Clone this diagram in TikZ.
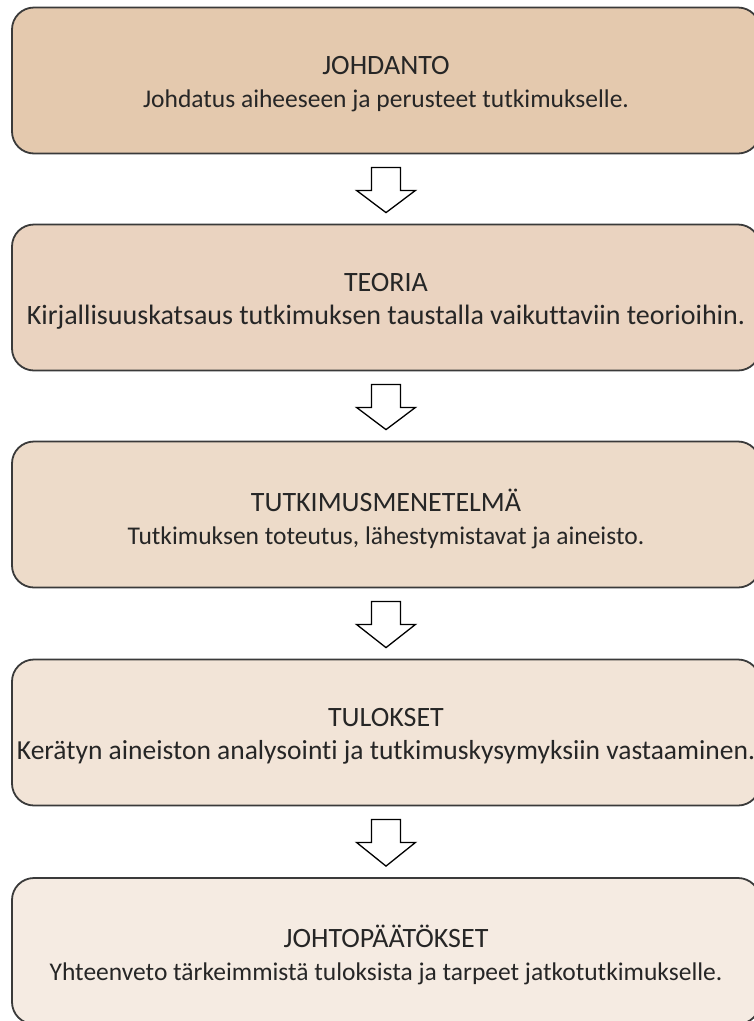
\documentclass[tikz,border=0pt]{standalone}
\usepackage{fontspec}
\setmainfont{Carlito}[Ligatures={NoCommon}]
\usetikzlibrary{calc}
\definecolor{edge}{HTML}{3A3A3A}
\definecolor{fillA}{HTML}{E4C9AE}
\definecolor{fillB}{HTML}{EAD3C0}
\definecolor{fillC}{HTML}{EDDBC9}
\definecolor{fillD}{HTML}{F2E4D7}
\definecolor{fillE}{HTML}{F5EBE2}
\tikzset{
  stagebox/.style={draw=edge, line width=1.8pt, rounded corners=22pt,
    minimum width=748pt, minimum height=146pt},
  stagetext/.style={align=center, text=black!85, inner sep=0pt,
    font=\fontsize{25.5}{33}\selectfont},
  blockarrow/.style={draw=black, line width=1.3pt, fill=white, line join=miter}
}
\newcommand{\stagetitle}[1]{{\fontsize{28}{33}\selectfont #1}}
% block arrow from the bottom of one box towards the top of the next
\newcommand{\downarrowbetween}[2]{%
  \draw[blockarrow]
    ($(#1.south)+(-14.5,13)$) -- ($(#1.south)+(14.5,13)$) --
    ($(#1.south)+(14.5,36)$) -- ($(#1.south)+(29.5,36)$) --
    ($(#2.north)+(0,-11)$) -- ($(#1.south)+(-29.5,36)$) --
    ($(#1.south)+(-14.5,36)$) -- cycle;}
\begin{document}
\begin{tikzpicture}[x=1pt,y=-1pt]
\useasboundingbox (0,0) rectangle (754,1021);
\node[stagebox, fill=fillA] (johdanto) at (386,80.5) {};
\node[stagebox, fill=fillB] (teoria) at (386,297.5) {};
\node[stagebox, fill=fillC] (menetelma) at (386,514.5) {};
\node[stagebox, fill=fillD] (tulokset) at (386,732.5) {};
\node[stagebox, fill=fillE] (johtopaatokset) at (386,951) {};
\node[stagetext] (johdanto-text) at ($(johdanto.center)+(0,4)$)
  {\stagetitle{JOHDANTO}\\Johdatus aiheeseen ja perusteet tutkimukselle.};
\node[stagetext, font=\fontsize{28}{33}\selectfont] (teoria-text) at ($(teoria.center)+(0,4)$)
  {\stagetitle{TEORIA}\\Kirjallisuuskatsaus tutkimuksen taustalla vaikuttaviin teorioihin.};
\node[stagetext] (menetelma-text) at ($(menetelma.center)+(0,4)$)
  {\stagetitle{TUTKIMUSMENETELMÄ}\\Tutkimuksen toteutus, lähestymistavat ja aineisto.};
\node[stagetext, font=\fontsize{27.5}{33}\selectfont] (tulokset-text) at ($(tulokset.center)+(0,4)$)
  {\stagetitle{TULOKSET}\\Kerätyn aineiston analysointi ja tutkimuskysymyksiin vastaaminen.};
\node[stagetext] (johtopaatokset-text) at ($(johtopaatokset.center)+(0,4)$)
  {\stagetitle{JOHTOPÄÄTÖKSET}\\Yhteenveto tärkeimmistä tuloksista ja tarpeet jatkotutkimukselle.};
\downarrowbetween{johdanto}{teoria}
\downarrowbetween{teoria}{menetelma}
\downarrowbetween{menetelma}{tulokset}
\downarrowbetween{tulokset}{johtopaatokset}
\end{tikzpicture}
\end{document}
